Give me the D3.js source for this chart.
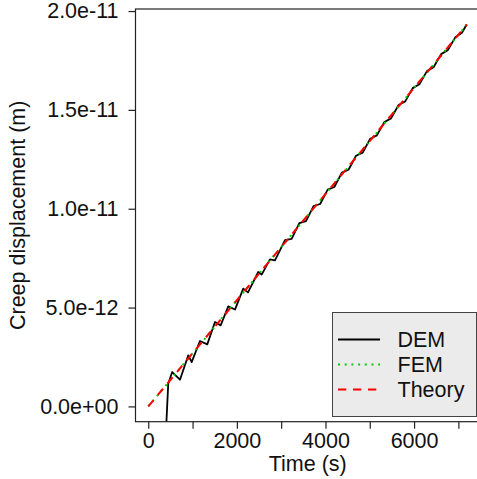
<!DOCTYPE html>
<html><head><meta charset="utf-8">
<script src="https://cdn.jsdelivr.net/npm/d3@7"></script>
<style>
html,body{margin:0;padding:0;background:#fff;}
svg{display:block;font-family:"Liberation Sans",Arial,Helvetica,sans-serif;}
</style></head>
<body>
<script>
// ---- data (values in metres, times in seconds) ----
const demTime = [410, 451, 540, 716, 903, 980, 1167, 1332, 1506, 1634, 1806, 1957, 2144, 2251, 2483, 2560, 2747, 2860, 3086, 3236, 3410, 3560, 3730, 3880, 4050, 4200, 4370, 4520, 4690, 4840, 5010, 5160, 5330, 5480, 5650, 5800, 5970, 6120, 6290, 6440, 6610, 6760, 6930, 7080, 7190];
const demValue = [-0.78, 1.15, 1.74, 1.35, 2.58, 2.24, 3.31, 3.14, 4.27, 4.10, 5.06, 4.90, 5.96, 5.77, 6.80, 6.67, 7.44, 7.39, 8.41, 8.48, 9.27, 9.37, 10.13, 10.24, 10.97, 11.10, 11.83, 11.97, 12.68, 12.84, 13.54, 13.71, 14.39, 14.57, 15.25, 15.43, 16.10, 16.30, 16.96, 17.16, 17.82, 18.02, 18.67, 18.90, 19.33].map(v => v * 1e-12);
const femTime = [0, 400, 800, 1200, 1600, 2000, 2400, 2800, 3200, 3600, 4000, 4400, 4800, 5200, 5600, 6000, 6400, 6800, 7190];
const femValue = [0, 1.07, 2.15, 3.22, 4.30, 5.37, 6.44, 7.52, 8.59, 9.67, 10.74, 11.81, 12.89, 13.96, 15.04, 16.11, 17.18, 18.26, 19.31].map(v => v * 1e-12);
const theoryTime = [0, 7190];
const theoryValue = [0, 19.31e-12];
const xTicks = [0, 1000, 2000, 3000, 4000, 5000, 6000, 7000];
const xTickLabels = ["0", "", "2000", "", "4000", "", "6000", ""];
const yTicks = [0, 5e-12, 1e-11, 1.5e-11, 2e-11];
const yTickLabels = ["0.0e+00", "5.0e-12", "1.0e-11", "1.5e-11", "2.0e-11"];
const seriesNames = ["DEM", "FEM", "Theory"];
const seriesColors = ["#000000", "#00CD00", "#FF0000"];

// ---- layout ----
const W = 477, H = 479;
const plot = {left: 135.5, right: 480, top: 9, bottom: 421.7};
const fs = 21.5;

const svg = d3.select("body").append("svg").attr("width", W).attr("height", H);
svg.append("rect").attr("width", W).attr("height", H).attr("fill", "#fff");

// R-style 4% range extension
const xmin = 0, xmax = 7200, ymin = 0, ymax = 19.33e-12;
const xs = d3.scaleLinear().domain([xmin - 0.04 * (xmax - xmin), xmax + 0.04 * (xmax - xmin)]).range([plot.left, plot.right]);
const ys = d3.scaleLinear().domain([ymin - 0.04 * (ymax - ymin), ymax + 0.04 * (ymax - ymin)]).range([plot.bottom, plot.top]);

svg.append("clipPath").attr("id", "clip").append("rect")
  .attr("x", plot.left).attr("y", plot.top)
  .attr("width", plot.right - plot.left).attr("height", plot.bottom - plot.top);

const g = svg.append("g").attr("clip-path", "url(#clip)");
const line = d3.line().x(d => xs(d[0])).y(d => ys(d[1]));

g.append("path").datum(demTime.map((t, i) => [t, demValue[i]]))
  .attr("d", line).attr("fill", "none").attr("stroke", seriesColors[0])
  .attr("stroke-width", 1.8).attr("stroke-linejoin", "round");
g.append("path").datum(femTime.map((t, i) => [t, femValue[i]]))
  .attr("d", line).attr("fill", "none").attr("stroke", seriesColors[1])
  .attr("stroke-width", 2).attr("stroke-dasharray", "2,4.7");
g.append("path").datum(theoryTime.map((t, i) => [t, theoryValue[i]]))
  .attr("d", line).attr("fill", "none").attr("stroke", seriesColors[2])
  .attr("stroke-width", 2).attr("stroke-dasharray", "8,7");

// frame
svg.append("rect").attr("x", plot.left).attr("y", plot.top)
  .attr("width", plot.right - plot.left).attr("height", plot.bottom - plot.top)
  .attr("fill", "none").attr("stroke", "#222").attr("stroke-width", 1.2);

// x axis
const xAxis = d3.axisBottom(xs).tickValues(xTicks).tickSize(7).tickPadding(4)
  .tickFormat((d, i) => xTickLabels[i]);
const gx = svg.append("g").attr("transform", `translate(0,${plot.bottom})`).call(xAxis);
gx.select(".domain").remove();
gx.selectAll(".tick line").attr("stroke", "#222").attr("stroke-width", 1.2);
gx.selectAll(".tick text").attr("font-size", fs).attr("fill", "#111")
  .attr("font-family", "Liberation Sans, Arial, sans-serif");

// y axis
const yAxis = d3.axisLeft(ys).tickValues(yTicks).tickSize(7).tickPadding(10)
  .tickFormat((d, i) => yTickLabels[i]);
const gy = svg.append("g").attr("transform", `translate(${plot.left},0)`).call(yAxis);
gy.select(".domain").remove();
gy.selectAll(".tick line").attr("stroke", "#222").attr("stroke-width", 1.2);
gy.selectAll(".tick text").attr("font-size", fs).attr("fill", "#111")
  .attr("font-family", "Liberation Sans, Arial, sans-serif");

// titles
svg.append("text").attr("x", (plot.left + plot.right) / 2).attr("y", 470.5)
  .attr("text-anchor", "middle").attr("font-size", fs).attr("fill", "#111").text("Time (s)");
svg.append("text").attr("transform", `translate(25,${(plot.top + plot.bottom) / 2}) rotate(-90)`)
  .attr("text-anchor", "middle").attr("font-size", fs).attr("fill", "#111").text("Creep displacement (m)");

// legend
const lg = svg.append("g");
lg.append("rect").attr("x", 332.5).attr("y", 312.5).attr("width", 144).attr("height", 104)
  .attr("fill", "#EBEBEB").attr("stroke", "#444").attr("stroke-width", 1);
const rowsY = [339.5, 364.5, 389.5];
const dashes = [null, "2,4.7", "8.3,6.7"];
seriesNames.forEach((name, i) => {
  const l = lg.append("line").attr("x1", 338).attr("x2", 380).attr("y1", rowsY[i]).attr("y2", rowsY[i])
    .attr("stroke", seriesColors[i]).attr("stroke-width", 2);
  if (dashes[i]) l.attr("stroke-dasharray", dashes[i]);
  lg.append("text").attr("x", 397.5).attr("y", rowsY[i]).attr("dy", "0.35em")
    .attr("font-size", fs).attr("fill", "#111").text(name);
});
</script>
</body></html>
